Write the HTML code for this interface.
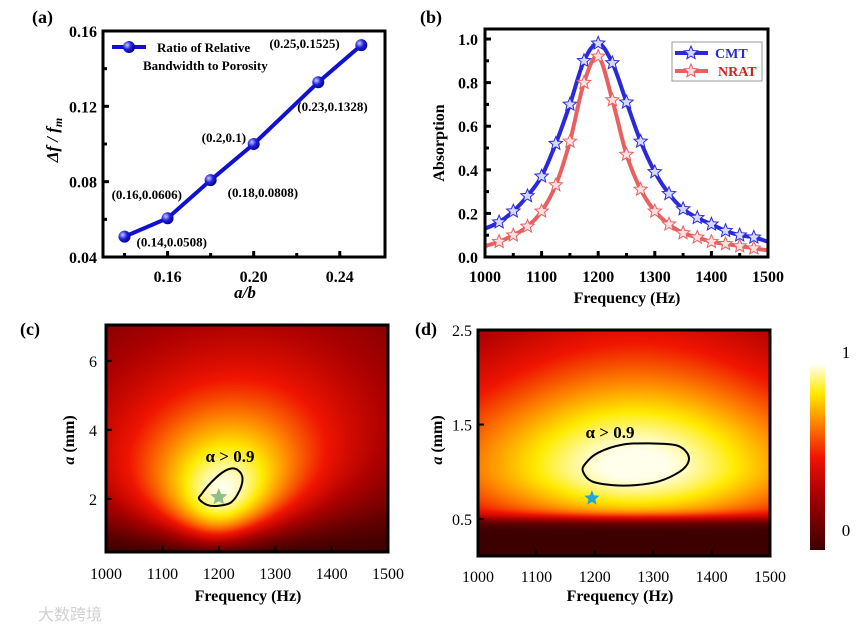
<!DOCTYPE html>
<html><head><meta charset="utf-8">
<style>
body{margin:0;background:#fff;width:865px;height:630px;overflow:hidden;position:relative;font-family:"Liberation Serif",serif}
canvas{position:absolute}
svg{position:absolute;left:0;top:0}
</style></head>
<body>
<canvas id="hc" width="282" height="227" style="left:106px;top:325px"></canvas>
<canvas id="hd" width="292" height="226" style="left:478px;top:330px"></canvas>
<canvas id="cb" width="15" height="185" style="left:810px;top:365px"></canvas>
<svg id="s" width="865" height="630"></svg>
<script>
// ---- data ----
const aX=[0.14,0.16,0.18,0.20,0.23,0.25];
const aY=[0.0508,0.0606,0.0808,0.1,0.1328,0.1525];
const aLabels=["(0.14,0.0508)","(0.16,0.0606)","(0.18,0.0808)","(0.2,0.1)","(0.23,0.1328)","(0.25,0.1525)"];
const aXTicks=[0.16,0.20,0.24];
const aYTicks=[0.04,0.08,0.12,0.16];
const bFreq=[1000,1025,1050,1075,1100,1125,1150,1175,1200,1225,1250,1275,1300,1325,1350,1375,1400,1425,1450,1475,1500];
const bCMT=[0.13,0.16,0.21,0.28,0.37,0.52,0.70,0.90,0.98,0.89,0.71,0.53,0.39,0.29,0.22,0.18,0.15,0.12,0.10,0.09,0.07];
const bNRAT=[0.05,0.07,0.10,0.14,0.21,0.33,0.53,0.80,0.92,0.72,0.47,0.31,0.21,0.15,0.11,0.09,0.07,0.06,0.05,0.04,0.03];
const bXTicks=[1000,1100,1200,1300,1400,1500];
const bYTicks=[0,0.2,0.4,0.6,0.8,1.0];
const cYTicks=[2,4,6];
const dYTicks=[0.5,1.5,2.5];
const cContourF=[1165,1180,1200,1222,1237,1242,1235,1222,1205,1185,1170];
const cContourA=[2.0,1.82,1.8,1.9,2.25,2.6,2.82,2.88,2.75,2.45,2.15];
const dContourF=[1180,1195,1230,1270,1310,1345,1360,1358,1340,1300,1250,1205,1183];
const dContourA=[1.0,0.9,0.86,0.86,0.9,1.0,1.1,1.2,1.28,1.3,1.29,1.2,1.08];

const NS="http://www.w3.org/2000/svg";
const svg=document.getElementById('s');
function el(tag,attrs,parent){const e=document.createElementNS(NS,tag);for(const k in attrs)e.setAttribute(k,attrs[k]);(parent||svg).appendChild(e);return e;}
function txt(x,y,s,o,name){const t=el('text',Object.assign({x:x,y:y,'font-family':'"Liberation Serif",serif','font-weight':'bold','font-size':15,fill:'#000'},o||{}));t.textContent=s;return t;}
function lin(d0,d1,r0,r1){return v=>r0+(v-d0)/(d1-d0)*(r1-r0);}
function frame(x0,y0,x1,y1,name){const r=el('rect',{x:x0,y:y0,width:x1-x0,height:y1-y0,fill:'none',stroke:'#000','stroke-width':3});}
function smooth(pts){let d='M'+pts[0][0]+','+pts[0][1];for(let i=0;i<pts.length-1;i++){const p0=pts[i-1]||pts[i],p1=pts[i],p2=pts[i+1],p3=pts[i+2]||p2;d+=' C'+(p1[0]+(p2[0]-p0[0])/6)+','+(p1[1]+(p2[1]-p0[1])/6)+' '+(p2[0]-(p3[0]-p1[0])/6)+','+(p2[1]-(p3[1]-p1[1])/6)+' '+p2[0]+','+p2[1];}return d;}
function closedSmooth(pts){const n=pts.length;let d='M'+pts[0][0]+','+pts[0][1];for(let i=0;i<n;i++){const p0=pts[(i-1+n)%n],p1=pts[i],p2=pts[(i+1)%n],p3=pts[(i+2)%n];d+=' C'+(p1[0]+(p2[0]-p0[0])/6)+','+(p1[1]+(p2[1]-p0[1])/6)+' '+(p2[0]-(p3[0]-p1[0])/6)+','+(p2[1]-(p3[1]-p1[1])/6)+' '+p2[0]+','+p2[1];}return d+'Z';}
function starPath(cx,cy,R){const r=R*0.45;let d='';for(let i=0;i<10;i++){const a=-Math.PI/2+i*Math.PI/5,rr=i%2?r:R;d+=(i?'L':'M')+(cx+rr*Math.cos(a)).toFixed(1)+','+(cy+rr*Math.sin(a)).toFixed(1);}return d+'Z';}

// ---- panel a ----
const ax=lin(0.13,0.261,103,385), ay=lin(0.04,0.16,257,31);
txt(32,23,'(a)',{'font-size':18},'panel-label-a');
aXTicks.forEach(v=>{el('line',{x1:ax(v),x2:ax(v),y1:257,y2:251,stroke:'#000','stroke-width':3});txt(ax(v),282,v.toFixed(2),{'text-anchor':'middle','font-size':16},'x-tick-label');});
[0.14,0.18,0.22].forEach(v=>el('line',{x1:ax(v),x2:ax(v),y1:257,y2:253,stroke:'#000','stroke-width':3}));
aYTicks.forEach(v=>{el('line',{x1:103,x2:109,y1:ay(v),y2:ay(v),stroke:'#000','stroke-width':3});txt(97,ay(v)+6,v.toFixed(2),{'text-anchor':'end','font-size':16},'y-tick-label');});
[0.06,0.10,0.14].forEach(v=>el('line',{x1:103,x2:107,y1:ay(v),y2:ay(v),stroke:'#000','stroke-width':3}));
frame(103,31,385,257,'plot-frame-a');
const la=el('polyline',{points:aX.map((v,i)=>ax(v)+','+ay(aY[i])).join(' '),fill:'none',stroke:'#1010d0','stroke-width':4});

const defs=el('defs',{});
const rg=el('radialGradient',{id:'ball',cx:'0.35',cy:'0.35',r:'0.7'},defs);
el('stop',{offset:'0','stop-color':'#c8c8ff'},rg);el('stop',{offset:'0.5','stop-color':'#2020e0'},rg);el('stop',{offset:'1','stop-color':'#000090'},rg);
aX.forEach((v,i)=>{const c=el('circle',{cx:ax(v),cy:ay(aY[i]),r:6,fill:'url(#ball)'});});
const aOff=[[12,10],[-56,-19],[17,17],[-52,-2],[-21,29],[-92,3]];
aX.forEach((v,i)=>txt(ax(v)+aOff[i][0],ay(aY[i])+aOff[i][1],aLabels[i],{'font-size':13},'point-label'));
el('line',{x1:112,x2:146,y1:47,y2:47,stroke:'#1010d0','stroke-width':4});
el('circle',{cx:129,cy:47,r:6,fill:'url(#ball)'});
txt(157,52,'Ratio of Relative',{'font-size':13},'legend-entry');
txt(143,70,'Bandwidth to Porosity',{'font-size':13},'legend-entry');
txt(245,298,'a/b',{'text-anchor':'middle','font-style':'italic','font-size':17},'x-axis-title-a');
const ya=txt(0,0,'Δf / f',{'text-anchor':'middle','font-style':'italic','font-size':17,transform:'translate(58,140) rotate(-90)'},'y-axis-title-a');
const sub=el('tspan',{'font-size':12,dy:4},ya);sub.textContent='m';

// ---- panel b ----
const bx=lin(1000,1500,485,768), by=lin(0,1.046,257,29);
txt(420,23,'(b)',{'font-size':18},'panel-label-b');
bXTicks.forEach(v=>{el('line',{x1:bx(v),x2:bx(v),y1:257,y2:251,stroke:'#000','stroke-width':3});txt(bx(v),282,String(v),{'text-anchor':'middle','font-size':16},'x-tick-label');});
[1050,1150,1250,1350,1450].forEach(v=>el('line',{x1:bx(v),x2:bx(v),y1:257,y2:253,stroke:'#000','stroke-width':3}));
bYTicks.forEach(v=>{el('line',{x1:485,x2:491,y1:by(v),y2:by(v),stroke:'#000','stroke-width':3});txt(478,by(v)+6,v.toFixed(1),{'text-anchor':'end','font-size':16},'y-tick-label');});
[0.1,0.3,0.5,0.7,0.9].forEach(v=>el('line',{x1:485,x2:489,y1:by(v),y2:by(v),stroke:'#000','stroke-width':3}));
const clip=el('clipPath',{id:'cbp'},defs);el('rect',{x:485,y:29,width:283,height:228},clip);
function series(vals,col,light,name){
  const p=el('path',{d:smooth(bFreq.map((f,i)=>[bx(f),by(vals[i])])),fill:'none',stroke:col,'stroke-width':4,'clip-path':'url(#cbp)'});
  
  bFreq.forEach((f,i)=>{if(i==0||i==bFreq.length-1)return;const s=el('path',{d:starPath(bx(f),by(vals[i]),7),fill:light,stroke:col,'stroke-width':1});});
}
series(bCMT,'#2a2ad8','#d8d8ff','cmt');
series(bNRAT,'#e86060','#ffe0e0','nrat');
frame(485,29,768,257,'plot-frame-b');
el('rect',{x:672,y:42,width:90,height:39,fill:'#fff',stroke:'#999','stroke-width':1});
el('line',{x1:675,x2:708,y1:53,y2:53,stroke:'#2a2ad8','stroke-width':4});el('path',{d:starPath(691,53,7),fill:'#d8d8ff',stroke:'#2a2ad8'});
txt(715,58,'CMT',{fill:'#2a2ad8','font-size':14},'legend-cmt');
el('line',{x1:675,x2:708,y1:71,y2:71,stroke:'#e86060','stroke-width':4});el('path',{d:starPath(691,71,7),fill:'#ffe0e0',stroke:'#e86060'});
txt(718,76,'NRAT',{fill:'#d02020','font-size':14},'legend-nrat');
txt(627,303,'Frequency (Hz)',{'text-anchor':'middle','font-size':16},'x-axis-title-b');
txt(0,0,'Absorption',{'text-anchor':'middle','font-size':16,transform:'translate(444,143) rotate(-90)'},'y-axis-title-b');

// ---- heatmaps ----
function cmap(v){v=Math.max(0,Math.min(1,v));const st=[[0,[60,0,0]],[0.3,[170,0,0]],[0.5,[240,20,0]],[0.7,[255,140,0]],[0.85,[255,235,0]],[1,[255,255,235]]];
 for(let i=0;i<st.length-1;i++){if(v<=st[i+1][0]){const t=(v-st[i][0])/(st[i+1][0]-st[i][0]);return st[i][1].map((c,k)=>Math.round(c+t*(st[i+1][1][k]-c)));}}return st[st.length-1][1];}
function paint(id,w,h,f0,f1,a0,a1,fn){const cv=document.getElementById(id),ctx=cv.getContext('2d'),im=ctx.createImageData(w,h);
 for(let y=0;y<h;y++)for(let x=0;x<w;x++){const f=f0+(x+.5)/w*(f1-f0),a=a1-(y+.5)/h*(a1-a0);const c=cmap(fn(f,a));const i=(y*w+x)*4;im.data[i]=c[0];im.data[i+1]=c[1];im.data[i+2]=c[2];im.data[i+3]=255;}ctx.putImageData(im,0,0);}
paint('hc',282,227,1000,1500,0.46,7.04,(f,a)=>{const A=Math.exp(-Math.pow(Math.log(a/2.3),2)/1.1);const w=50+45*a;const f0=1205+8*(a-2);return A/(1+Math.pow((f-f0)/w,2));});
paint('hd',292,226,1000,1500,0.11,2.5,(f,a)=>{const s=a>1.05?1.3:0.85;const A=1/(1+Math.pow((a-1.05)/s,2));const sg=1/(1+Math.exp(-(a-0.5)/0.035));const w=380;return A*sg/(1+Math.pow((f-1270)/w,2))*1.02;});
(function(){const cv=document.getElementById('cb'),ctx=cv.getContext('2d');for(let y=0;y<185;y++){const c=cmap(1-y/184);ctx.fillStyle='rgb('+c+')';ctx.fillRect(0,y,15,1);}})();

// ---- panel c ----
const cx=lin(1000,1500,106,388), cy=lin(0.46,7.04,552,325);
txt(20,335,'(c)',{'font-size':18},'panel-label-c');
frame(106,325,388,552,'plot-frame-c');
bXTicks.forEach(v=>{el('line',{x1:cx(v),x2:cx(v),y1:552,y2:546,stroke:'#000','stroke-width':2});txt(cx(v),579,String(v),{'text-anchor':'middle','font-size':16,'font-weight':'normal'},'x-tick-label');});
cYTicks.forEach(v=>{el('line',{x1:106,x2:112,y1:cy(v),y2:cy(v),stroke:'#000','stroke-width':2});txt(97,cy(v)+6,String(v),{'text-anchor':'end','font-size':16,'font-weight':'normal'},'y-tick-label');});
const cc=el('path',{d:closedSmooth(cContourF.map((f,i)=>[cx(f),cy(cContourA[i])])),fill:'none',stroke:'#000','stroke-width':2});

const sc=el('path',{d:starPath(cx(1200),cy(2.05),9),fill:'#8fbf8a'});
txt(230,462,'α > 0.9',{'text-anchor':'middle','font-size':17},'annotation-c');
txt(248,601,'Frequency (Hz)',{'text-anchor':'middle','font-size':16},'x-axis-title-c');
const ytc=txt(0,0,'',{'text-anchor':'middle','font-size':16,transform:'translate(74,440) rotate(-90)'},'y-axis-title-c');
ytc.innerHTML='<tspan font-style="italic">a</tspan> (mm)';

// ---- panel d ----
const dx=lin(1000,1500,478,770), dy=lin(0.11,2.5,556,330);
txt(415,335,'(d)',{'font-size':18},'panel-label-d');
frame(478,330,770,556,'plot-frame-d');
bXTicks.forEach(v=>{el('line',{x1:dx(v),x2:dx(v),y1:556,y2:550,stroke:'#000','stroke-width':2});txt(dx(v),582,String(v),{'text-anchor':'middle','font-size':16,'font-weight':'normal'},'x-tick-label');});
dYTicks.forEach(v=>{el('line',{x1:478,x2:484,y1:dy(v),y2:dy(v),stroke:'#000','stroke-width':2});txt(472,dy(v)+6,String(v),{'text-anchor':'end','font-size':16,'font-weight':'normal'},'y-tick-label');});
const dc=el('path',{d:closedSmooth(dContourF.map((f,i)=>[dx(f),dy(dContourA[i])])),fill:'none',stroke:'#000','stroke-width':2});

const sd=el('path',{d:starPath(dx(1195),dy(0.72),8),fill:'#20a8d8'});
txt(610,438,'α > 0.9',{'text-anchor':'middle','font-size':17},'annotation-d');
txt(620,601,'Frequency (Hz)',{'text-anchor':'middle','font-size':16},'x-axis-title-d');
const ytd=txt(0,0,'',{'text-anchor':'middle','font-size':16,transform:'translate(442,440) rotate(-90)'},'y-axis-title-d');
ytd.innerHTML='<tspan font-style="italic">a</tspan> (mm)';
txt(846,358,'1',{'text-anchor':'middle','font-size':17,'font-weight':'normal'},'colorbar-max');
txt(846,536,'0',{'text-anchor':'middle','font-size':17,'font-weight':'normal'},'colorbar-min');
txt(38,620,'大数跨境',{'font-family':'"Noto Sans CJK SC",sans-serif','font-size':16,fill:'#d0d0d0','font-weight':'normal'},'watermark');
</script>
</body></html>
